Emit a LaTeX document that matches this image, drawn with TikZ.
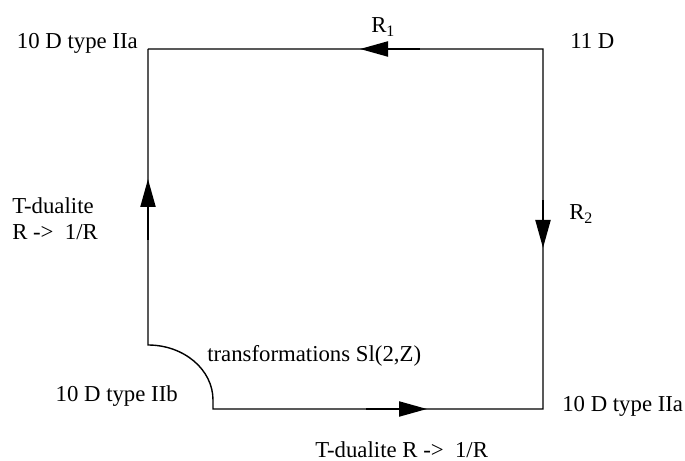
\documentclass[tikz,border=0pt]{standalone}
\usepackage{fontspec}
\setmainfont{Liberation Serif}
\usetikzlibrary{arrows.meta}
\begin{document}
\begin{tikzpicture}\tikzset{lab/.style = {inner sep=0pt, font=\fontsize{16.2}{18.4}\selectfont}, flow/.style = {line width=1.5pt, -{Triangle[length=0.7cm, width=0.375cm]}}}

		\useasboundingbox (0,0) rectangle (17.125,11.525);

		\coordinate (A) at (3.7,10.3);
		\coordinate (M) at (13.575,10.3);
		\coordinate (B) at (13.575,1.3);
		\coordinate (C) at (5.325,1.3);
		\coordinate (C_1) at (5.325,1.525);
		\coordinate (D) at (3.7,2.9);

		\coordinate (top_1) at (10.5,10.3);
		\coordinate (top_2) at (9.0,10.3);
		\coordinate (right_1) at (13.575,6.525);
		\coordinate (right_2) at (13.575,5.325);
		\coordinate (left_1) at (3.7,5.525);
		\coordinate (left_2) at (3.7,7.05);
		\coordinate (bot_1) at (9.15,1.3);
		\coordinate (bot_2) at (10.675,1.3);

		\node[lab, anchor=base east] (IIa_1) at (3.45,10.3) {10 D type IIa};
		\node[lab, anchor=base west] (M11) at (14.25,10.3) {11 D};
		\node[lab, anchor=base west] (R_1) at (9.275,10.7) {R\textsubscript{1}};
		\node[lab, anchor=base west] (R_2) at (14.225,6.025) {R\textsubscript{2}};
		\node[lab, anchor=west, align=left] (T_1) at (0.3,6.05) {T-dualite\\R -> \ 1/R};
		\node[lab, anchor=base west] (S) at (5.175,2.475) {transformations Sl(2,Z)};
		\node[lab, anchor=base east] (IIb) at (4.45,1.475) {10 D type IIb};
		\node[lab, anchor=base west] (IIa_2) at (14.05,1.225) {10 D type IIa};
		\node[lab, anchor=base west] (T_2) at (7.875,0.075) {T-dualite R -> \ 1/R};

		\draw[line width=1pt] (A) -- (M) -- (B) -- (C) -- (C_1) arc[start angle=0, end angle=90, x radius=1.625, y radius=1.375] -- (A);
		\draw[flow] (top_1) -- (top_2);
		\draw[flow] (right_1) -- (right_2);
		\draw[flow] (left_1) -- (left_2);
		\draw[flow] (bot_1) -- (bot_2);
	\end{tikzpicture}
\end{document}
